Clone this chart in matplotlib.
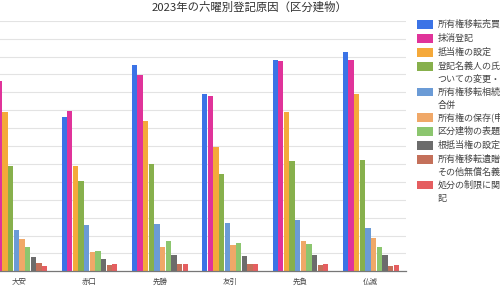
import matplotlib
matplotlib.use("Agg")
import matplotlib.pyplot as plt
import numpy as np
from matplotlib.patches import Rectangle

plt.rcParams['font.family'] = ['Noto Sans CJK JP', 'DejaVu Sans']

title = "2023年の六曜別登記原因（区分建物）"
categories = ["大安", "赤口", "先勝", "友引", "先負", "仏滅"]
series_names = [
    "所有権移転売買",
    "抹消登記",
    "抵当権の設定",
    "登記名義人の氏名等についての変更・更正",
    "所有権移転相続・法人合併",
    "所有権の保存(申請)",
    "区分建物の表題",
    "根抵当権の設定",
    "所有権移転遺贈・贈与その他無償名義",
    "処分の制限に関する登記",
]
legend_lines = [
    ["所有権移転売買"],
    ["抹消登記"],
    ["抵当権の設定"],
    ["登記名義人の氏名等に", "ついての変更・更正"],
    ["所有権移転相続・法人", "合併"],
    ["所有権の保存(申請)"],
    ["区分建物の表題"],
    ["根抵当権の設定"],
    ["所有権移転遺贈・贈与", "その他無償名義"],
    ["処分の制限に関する登", "記"],
]
colors = ["#3B73E6", "#E0339A", "#F5A93A", "#87B04C", "#6B9BD6",
          "#F0A868", "#8CC66F", "#6C6C6C", "#C4705A", "#E55E60"]

# values per series, ordered by categories
s_baibai   = [1020, 860, 1151, 993, 1181, 1226]
s_masshou  = [1065, 897, 1097, 981, 1177, 1181]
s_teitou   = [888, 588, 840, 696, 890, 989]
s_meigi    = [588, 502, 599, 543, 614, 619]
s_souzoku  = [233, 257, 263, 272, 284, 244]
s_hozon    = [179, 106, 138, 147, 172, 188]
s_hyoudai  = [134, 116, 172, 157, 153, 136]
s_neteitou = [78, 71, 90, 88, 93, 93]
s_izou     = [49, 34, 41, 41, 35, 32]
s_shobun   = [30, 41, 41, 39, 43, 34]
series_values = [s_baibai, s_masshou, s_teitou, s_meigi, s_souzoku,
                 s_hozon, s_hyoudai, s_neteitou, s_izou, s_shobun]

W, H = 500, 288
fig = plt.figure(figsize=(5.0, 2.88), dpi=100)
ax = fig.add_axes([-16 / W, (H - 271.3) / H, 422 / W, 250.6 / H])

x = np.arange(len(categories))
n = len(series_values)
bw = 0.8 / n
for j, (vals, col) in enumerate(zip(series_values, colors)):
    ax.bar(x + (j - (n - 1) / 2) * bw, vals, width=bw * 0.94, color=col,
           linewidth=0, zorder=3)

ax.set_xlim(-0.5, len(categories) - 0.5)
ax.set_ylim(0, 1400)
ax.set_yticks(np.arange(0, 1401, 100))
ax.yaxis.grid(True, color="#e3e3e3", linewidth=0.8, zorder=0)
ax.set_yticklabels([])
ax.tick_params(axis='y', length=0)
ax.set_xticks(x)
ax.set_xticklabels(categories, fontsize=5.4, color="#444444")
ax.tick_params(axis='x', length=0, pad=4.5)
for s in ["top", "right", "left"]:
    ax.spines[s].set_visible(False)
ax.spines["bottom"].set_color("#777777")
ax.spines["bottom"].set_linewidth(0.9)
ax.spines["bottom"].set_zorder(4)

fig.text(0.5, 1 - 7.5 / H, title, ha="center", va="center",
         fontsize=8.2, color="#333333")

# legend (manual, clipped at figure edge like reference)
extra = 0
for i, (lines, col) in enumerate(zip(legend_lines, colors)):
    yc = 24.5 + 14 * i + 11.5 * extra
    fig.patches.append(Rectangle((416.7 / W, 1 - (yc + 4.2) / H), 16 / W, 8.4 / H,
                                 transform=fig.transFigure, facecolor=col,
                                 edgecolor="none"))
    for k, ln in enumerate(lines):
        fig.text(437.3 / W, 1 - (yc + 13 * k) / H, ln, ha="left", va="center",
                 fontsize=6.5, color="#444444")
    extra += len(lines) - 1

fig.savefig("out.png", dpi=100)
